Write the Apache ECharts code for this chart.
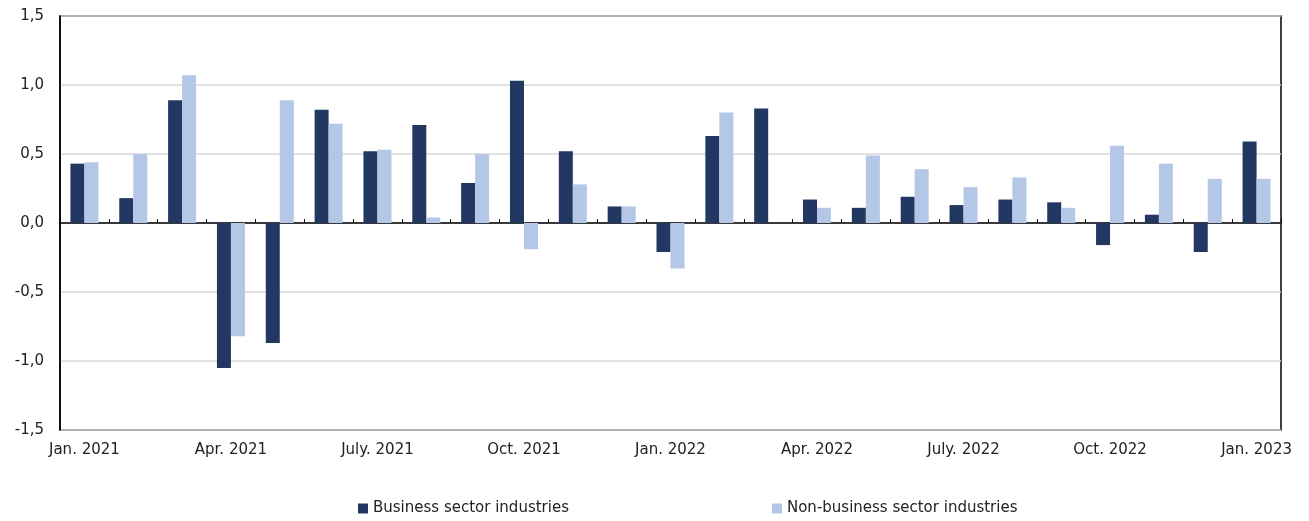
<!DOCTYPE html>
<html>
<head>
<meta charset="utf-8">
<script src="https://cdn.jsdelivr.net/npm/echarts@6/dist/echarts.min.js"></script>
<style>
  html, body { margin: 0; padding: 0; background: #fff; }
  #chart { width: 1309px; height: 521px; }
</style>
</head>
<body>
<div id="chart"></div>
<script>
const months = [
  'Jan. 2021', 'Feb. 2021', 'Mar. 2021', 'Apr. 2021', 'May 2021', 'June 2021',
  'July. 2021', 'Aug. 2021', 'Sep. 2021', 'Oct. 2021', 'Nov. 2021', 'Dec. 2021',
  'Jan. 2022', 'Feb. 2022', 'Mar. 2022', 'Apr. 2022', 'May 2022', 'June 2022',
  'July. 2022', 'Aug. 2022', 'Sep. 2022', 'Oct. 2022', 'Nov. 2022', 'Dec. 2022',
  'Jan. 2023',
]
const business = [
  0.43, 0.18, 0.89, -1.05, -0.87, 0.82, 0.52, 0.71, 0.29, 1.03, 0.52, 0.12,
  -0.21, 0.63, 0.83, 0.17, 0.11, 0.19, 0.13, 0.17, 0.15, -0.16, 0.06, -0.21,
  0.59,
]
const nonBusiness = [
  0.44, 0.50, 1.07, -0.82, 0.89, 0.72, 0.53, 0.04, 0.50, -0.19, 0.28, 0.12,
  -0.33, 0.80, 0, 0.11, 0.49, 0.39, 0.26, 0.33, 0.11, 0.56, 0.43, 0.32,
  0.32,
]

const font = '"DejaVu Sans", Verdana, sans-serif'
const chart = echarts.init(document.getElementById('chart'))

chart.setOption({
  backgroundColor: '#fff',
  animation: false,
  textStyle: { fontFamily: font },
  grid: {
    left: 60, right: 28, top: 16, bottom: 91,
    show: true, borderColor: '#000', borderWidth: 1.5,
  },
  legend: {
    bottom: 0,
    left: 353,
    icon: 'rect',
    itemWidth: 10,
    itemHeight: 10,
    itemGap: 203,
    textStyle: { fontFamily: font, fontSize: 15, color: '#222' },
    data: ['Business sector industries', 'Non-business sector industries'],
  },
  xAxis: [
    {
      type: 'category',
      data: months,
      axisLine: { onZero: true, lineStyle: { color: '#000', width: 1.5 } },
      axisTick: { show: true, interval: 0, inside: true, length: 4, lineStyle: { color: '#000' } },
      axisLabel: { show: false },
    },
    {
      type: 'category',
      data: months,
      position: 'bottom',
      axisLine: { show: false, onZero: false },
      axisTick: { show: false },
      axisLabel: {
        interval: (i) => i % 3 === 0,
        fontSize: 15,
        color: '#222',
        margin: 13,
        fontFamily: font,
      },
    },
  ],
  yAxis: {
    type: 'value',
    min: -1.5,
    max: 1.5,
    interval: 0.5,
    axisLine: { show: true, lineStyle: { color: '#000', width: 1.5 } },
    axisTick: { show: false },
    axisLabel: {
      fontSize: 15,
      color: '#222',
      margin: 16,
      fontFamily: font,
      formatter: (v) => v.toFixed(1).replace('.', ','),
    },
    splitLine: { lineStyle: { color: '#d9d9d9', width: 1.5 } },
  },
  series: [
    {
      name: 'Business sector industries',
      type: 'bar',
      data: business,
      barWidth: 14,
      barGap: '0%',
      itemStyle: { color: '#223862' },
    },
    {
      name: 'Non-business sector industries',
      type: 'bar',
      data: nonBusiness,
      barWidth: 14,
      barGap: '0%',
      itemStyle: { color: '#b4c7e7' },
    },
  ],
})
</script>
</body>
</html>
